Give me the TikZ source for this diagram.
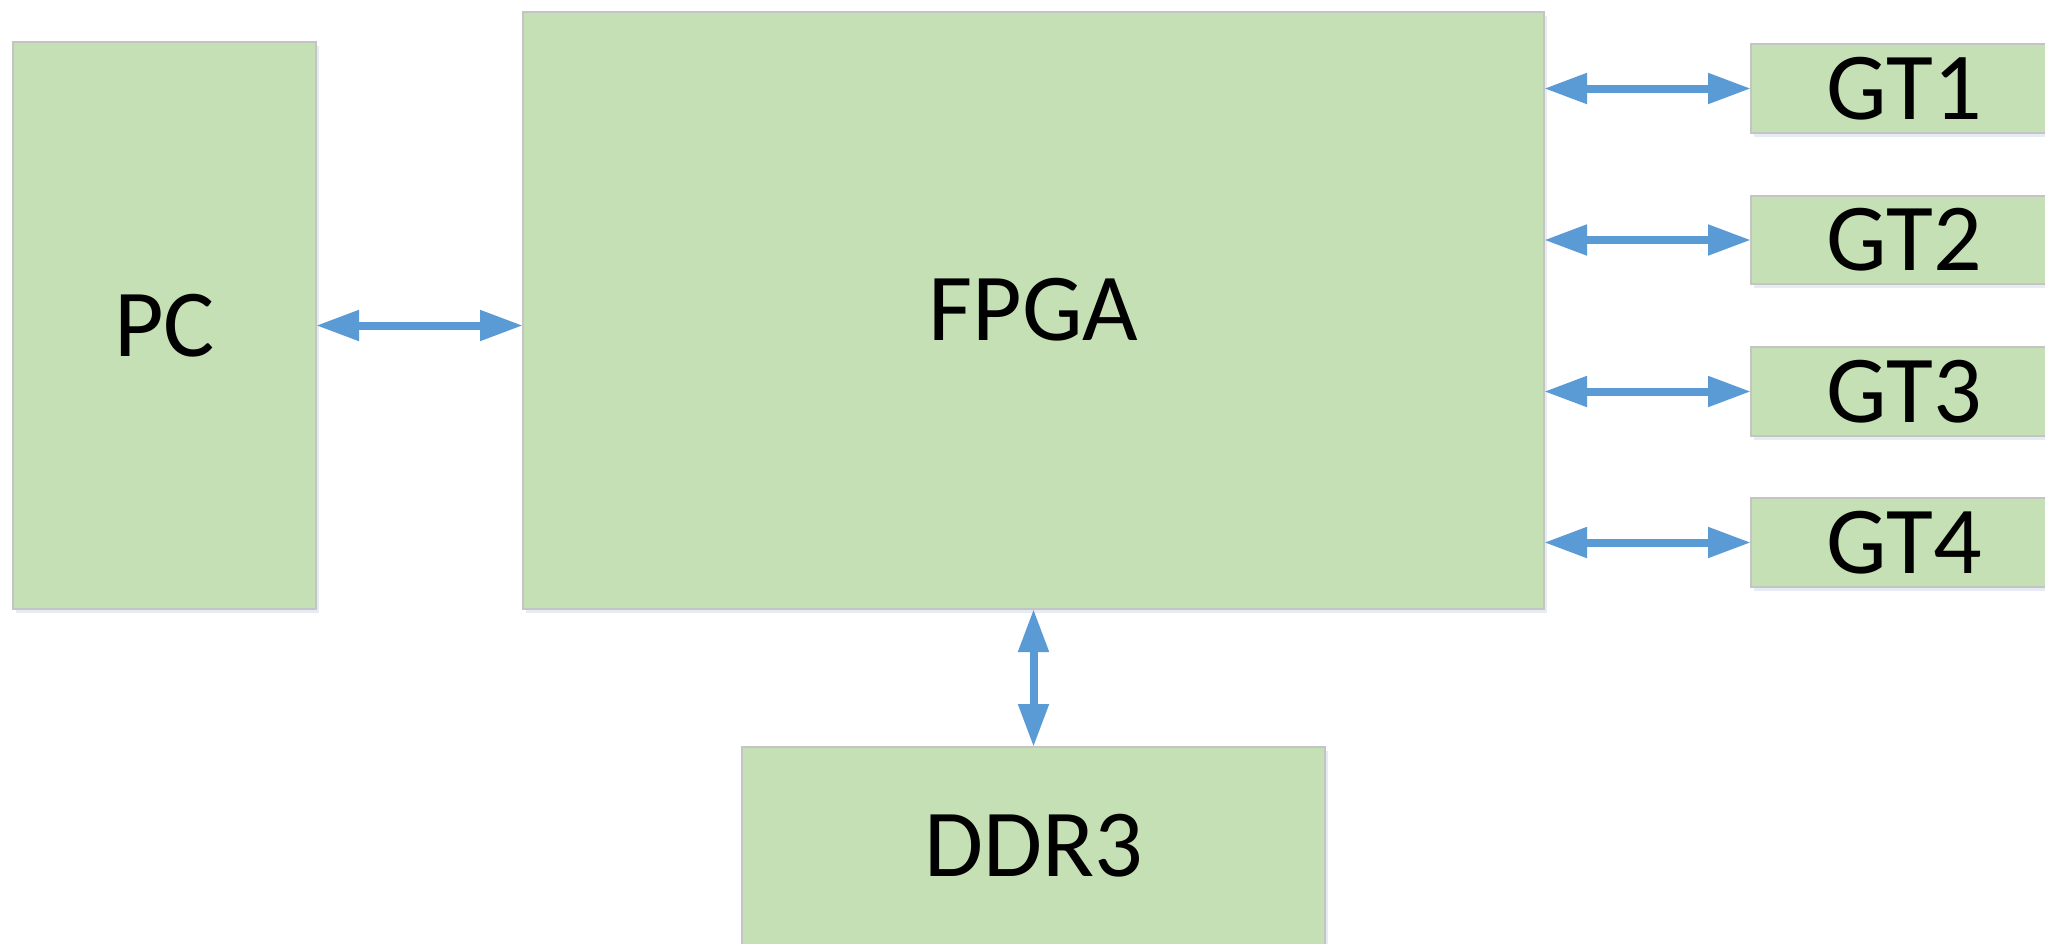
\documentclass[tikz,border=0pt]{standalone}
\usepackage{fontspec}
\setmainfont{Carlito}
\usetikzlibrary{arrows.meta}
\definecolor{boxfill}{HTML}{C5E0B4}
\definecolor{boxline}{HTML}{C4C4C4}
\definecolor{arrowblue}{HTML}{5B9BD5}
\definecolor{shadowc}{HTML}{E6ECF4}
\tikzset{
  block/.style={draw=boxline, line width=1.5pt, fill=boxfill, inner sep=0pt, outer sep=0pt,
    font=\fontsize{96}{110}\selectfont, text=black},
  biarrow/.style={draw=arrowblue, line width=8pt,
    {Triangle[length=43pt,width=29pt]}-{Triangle[length=43pt,width=29pt]}},
}
\begin{document}
\begin{tikzpicture}[x=1pt,y=-1pt]
\useasboundingbox (0,0) rectangle (2045,943);
\fill[white] (0,0) rectangle (2045,943);
% soft shadows
\foreach \x/\y/\w/\h in {164.5/325.5/303/567, 1033.5/310.5/1021/597, 1904/88.5/306/89, 1904/240/306/88, 1904/391.5/306/89, 1904/542.5/306/89, 1033.5/846/583/198}{
  \fill[shadowc] (\x-\w/2+3,\y-\h/2+4) rectangle (\x+\w/2+3,\y+\h/2+4);
}
\node[block, minimum width=303pt, minimum height=567pt] (pc) at (164.5,325.5) {PC};
\node[block, minimum width=1021pt, minimum height=597pt] (fpga) at (1033.5,310.5) {\raisebox{3pt}{FPGA}};
\node[block, minimum width=306pt, minimum height=89pt] (gt1) at (1904,88.5) {GT1};
\node[block, minimum width=306pt, minimum height=88pt] (gt2) at (1904,240) {GT2};
\node[block, minimum width=306pt, minimum height=89pt] (gt3) at (1904,391.5) {GT3};
\node[block, minimum width=306pt, minimum height=89pt] (gt4) at (1904,542.5) {GT4};
\node[block, minimum width=583pt, minimum height=198pt] (ddr) at (1033.5,846) {DDR3};
\draw[biarrow] (pc.east) -- (pc.east -| fpga.west);
\draw[biarrow] (gt1.west -| fpga.east) -- (gt1.west);
\draw[biarrow] (gt2.west -| fpga.east) -- (gt2.west);
\draw[biarrow] (gt3.west -| fpga.east) -- (gt3.west);
\draw[biarrow] (gt4.west -| fpga.east) -- (gt4.west);
\draw[biarrow] (fpga.south) -- (ddr.north);
\end{tikzpicture}
\end{document}
